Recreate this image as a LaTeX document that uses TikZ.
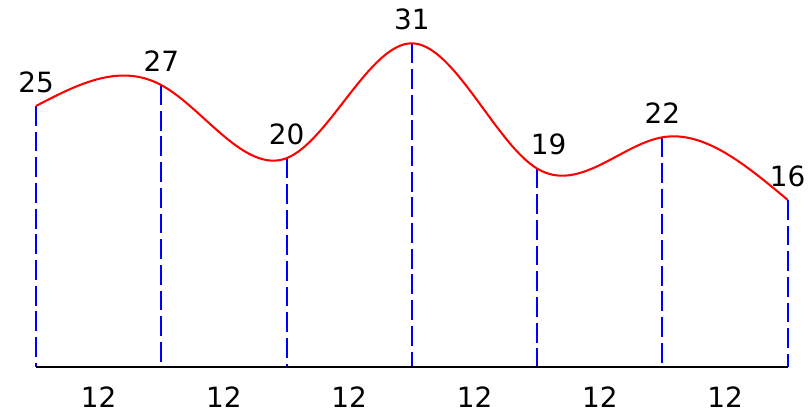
\documentclass[tikz,border=0pt]{standalone}
\usepackage{fontspec}
\setmainfont{DejaVu Sans}
\usepackage{xcolor}
\usepackage{tikz}

\begin{document}
\begin{tikzpicture}[x=0.25cm, y=0.25cm,
    every node/.style={font=\fontsize{19}{22}\selectfont, inner sep=0pt},
    guide/.style={draw=blue, line width=1.4pt, dash pattern=on 13.5pt off 4pt},
    hlabel/.style={above=9pt},
    wlabel/.style={below=13.5pt}]
    \useasboundingbox (-3.45, -4.5) rectangle (74.04, 35.15);

    % Heights on the curve
    \coordinate (p0) at (0, 25);
    \coordinate (p1) at (12, 27);
    \coordinate (p2) at (24, 20);
    \coordinate (p3) at (36, 31);
    \coordinate (p4) at (48, 19);
    \coordinate (p5) at (60, 22);
    \coordinate (p6) at (72, 16);
    % Feet on the base
    \coordinate (b0) at (0, 0);
    \coordinate (b1) at (12, 0);
    \coordinate (b2) at (24, 0);
    \coordinate (b3) at (36, 0);
    \coordinate (b4) at (48, 0);
    \coordinate (b5) at (60, 0);
    \coordinate (b6) at (72, 0);

    % Vertical guides
    \draw[guide] (p0) -- (b0);
    \draw[guide] (p1) -- (b1);
    \draw[guide] (p2) -- (b2);
    \draw[guide] (p3) -- (b3);
    \draw[guide] (p4) -- (b4);
    \draw[guide] (p5) -- (b5);
    \draw[guide] (p6) -- (b6);

    % Base line
    \draw[black, line width=1.4pt] (b0) -- (b6);

    % Spline through the heights
    \draw[red, line width=1.4pt] (p0)
    .. controls (4, 27.08) and (8, 29.16) .. (p1)
    .. controls (16, 24.84) and (20, 18.45) .. (p2)
    .. controls (28, 21.55) and (32, 31.03) .. (p3)
    .. controls (40, 30.97) and (44, 21.41) .. (p4)
    .. controls (52, 16.59) and (56, 21.31) .. (p5)
    .. controls (64, 22.69) and (68, 19.34) .. (p6);

    % Height labels
    \node[hlabel] (h0) at (p0) {25};
    \node[hlabel] (h1) at (p1) {27};
    \node[hlabel] (h2) at (p2) {20};
    \node[hlabel] (h3) at (p3) {31};
    \node[hlabel, xshift=7.8pt] (h4) at (p4) {19};
    \node[hlabel] (h5) at (p5) {22};
    \node[hlabel] (h6) at (p6) {16};

    % Width labels
    \node[wlabel] (w1) at (6, 0) {12};
    \node[wlabel] (w2) at (18, 0) {12};
    \node[wlabel] (w3) at (30, 0) {12};
    \node[wlabel] (w4) at (42, 0) {12};
    \node[wlabel] (w5) at (54, 0) {12};
    \node[wlabel] (w6) at (66, 0) {12};
\end{tikzpicture}
\end{document}
